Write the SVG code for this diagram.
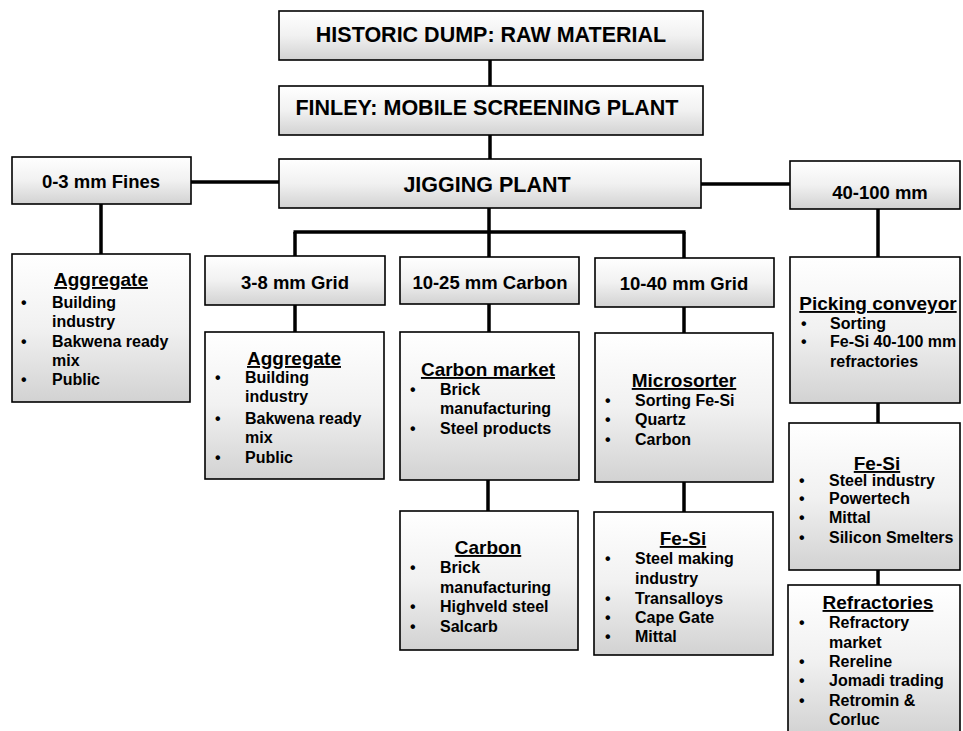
<svg xmlns="http://www.w3.org/2000/svg" width="963" height="731" viewBox="0 0 963 731">
<defs>
<linearGradient id="fill" x1="0" y1="0" x2="0" y2="1">
<stop offset="0" stop-color="#ffffff"/>
<stop offset="0.5" stop-color="#f1f1f1"/>
<stop offset="1" stop-color="#d2d2d2"/>
</linearGradient>
<style>
rect.box{fill:url(#fill);stroke:#000;stroke-width:1.6}
.conn line{stroke:#000;stroke-width:3.5;stroke-linecap:butt}
text{font-family:"Liberation Sans",Arial,Helvetica,sans-serif;font-weight:bold;fill:#000}
.big{font-size:21.5px;text-anchor:middle}
.ttl{font-size:18.5px;text-anchor:middle}
.hdr{font-size:19px;text-anchor:middle;text-decoration:underline}
.itm{font-size:16px}
</style>
</defs>
<rect width="963" height="731" fill="#fff"/>
<g class="conn" id="connectors">
<line x1="490" y1="60" x2="490" y2="86"/>
<line x1="490" y1="135" x2="490" y2="159"/>
<line x1="191" y1="182" x2="279" y2="182"/>
<line x1="701" y1="184" x2="790" y2="184"/>
<line x1="101" y1="204" x2="101" y2="254"/>
<line x1="489" y1="208" x2="489" y2="232"/>
<line x1="293.5" y1="232" x2="685.5" y2="232"/>
<line x1="295" y1="232" x2="295" y2="256"/>
<line x1="489" y1="232" x2="489" y2="257"/>
<line x1="684" y1="232" x2="684" y2="258"/>
<line x1="295" y1="305" x2="295" y2="332"/>
<line x1="489" y1="304" x2="489" y2="332"/>
<line x1="684" y1="307" x2="684" y2="333"/>
<line x1="488" y1="480" x2="488" y2="511"/>
<line x1="684" y1="482" x2="684" y2="512"/>
<line x1="878" y1="209" x2="878" y2="257"/>
<line x1="878" y1="403" x2="878" y2="423"/>
<line x1="878" y1="570" x2="878" y2="585"/>
</g>
<g id="historic-dump">
<rect class="box" x="279" y="11" width="424" height="49"/>
<text class="big" x="491" y="42">HISTORIC DUMP: RAW MATERIAL</text>
</g>
<g id="finley">
<rect class="box" x="279" y="86" width="424" height="49"/>
<text class="big" x="487" y="115">FINLEY: MOBILE SCREENING PLANT</text>
</g>
<g id="jigging">
<rect class="box" x="279" y="159" width="422" height="49"/>
<text class="big" x="487" y="192">JIGGING PLANT</text>
</g>
<g id="fines">
<rect class="box" x="12" y="157" width="179" height="47"/>
<text class="ttl" x="101" y="188">0-3 mm Fines</text>
</g>
<g id="size-40-100">
<rect class="box" x="790" y="161" width="170" height="48"/>
<text class="ttl" x="880" y="199">40-100 mm</text>
</g>
<g id="grid-3-8">
<rect class="box" x="205" y="256" width="180" height="49"/>
<text class="ttl" x="295" y="289">3-8 mm Grid</text>
</g>
<g id="carbon-10-25">
<rect class="box" x="400" y="257" width="179" height="47"/>
<text class="ttl" x="490" y="289">10-25 mm Carbon</text>
</g>
<g id="grid-10-40">
<rect class="box" x="595" y="258" width="179" height="49"/>
<text class="ttl" x="684" y="290">10-40 mm Grid</text>
</g>
<g id="aggregate-1">
<rect class="box" x="12" y="254" width="178" height="148"/>
<text class="hdr" x="101" y="286">Aggregate</text>
<text class="itm"><tspan x="21" y="308">•</tspan><tspan x="52" y="308">Building</tspan><tspan x="52" y="327">industry</tspan><tspan x="21" y="347">•</tspan><tspan x="52" y="347">Bakwena ready</tspan><tspan x="52" y="366">mix</tspan><tspan x="21" y="385">•</tspan><tspan x="52" y="385">Public</tspan></text>
</g>
<g id="aggregate-2">
<rect class="box" x="205" y="332" width="179" height="147"/>
<text class="hdr" x="294" y="365">Aggregate</text>
<text class="itm"><tspan x="215" y="383">•</tspan><tspan x="245" y="383">Building</tspan><tspan x="245" y="402">industry</tspan><tspan x="215" y="424">•</tspan><tspan x="245" y="424">Bakwena ready</tspan><tspan x="245" y="443">mix</tspan><tspan x="215" y="463">•</tspan><tspan x="245" y="463">Public</tspan></text>
</g>
<g id="carbon-market">
<rect class="box" x="400" y="332" width="179" height="148"/>
<text class="hdr" x="488" y="376">Carbon market</text>
<text class="itm"><tspan x="410" y="395">•</tspan><tspan x="440" y="395">Brick</tspan><tspan x="440" y="414">manufacturing</tspan><tspan x="410" y="434">•</tspan><tspan x="440" y="434">Steel products</tspan></text>
</g>
<g id="microsorter">
<rect class="box" x="595" y="333" width="178" height="149"/>
<text class="hdr" x="684" y="387">Microsorter</text>
<text class="itm"><tspan x="605" y="406">•</tspan><tspan x="635" y="406">Sorting Fe-Si</tspan><tspan x="605" y="425">•</tspan><tspan x="635" y="425">Quartz</tspan><tspan x="605" y="445">•</tspan><tspan x="635" y="445">Carbon</tspan></text>
</g>
<g id="carbon">
<rect class="box" x="400" y="511" width="178" height="139"/>
<text class="hdr" x="488" y="554">Carbon</text>
<text class="itm"><tspan x="410" y="573">•</tspan><tspan x="440" y="573">Brick</tspan><tspan x="440" y="593">manufacturing</tspan><tspan x="410" y="612">•</tspan><tspan x="440" y="612">Highveld steel</tspan><tspan x="410" y="632">•</tspan><tspan x="440" y="632">Salcarb</tspan></text>
</g>
<g id="fesi-mid">
<rect class="box" x="594" y="512" width="179" height="143"/>
<text class="hdr" x="683" y="545">Fe-Si</text>
<text class="itm"><tspan x="605" y="564">•</tspan><tspan x="635" y="564">Steel making</tspan><tspan x="635" y="584">industry</tspan><tspan x="605" y="604">•</tspan><tspan x="635" y="604">Transalloys</tspan><tspan x="605" y="623">•</tspan><tspan x="635" y="623">Cape Gate</tspan><tspan x="605" y="642">•</tspan><tspan x="635" y="642">Mittal</tspan></text>
</g>
<g id="picking">
<rect class="box" x="790" y="257" width="170" height="146"/>
<text class="hdr" x="878" y="310">Picking conveyor</text>
<text class="itm"><tspan x="801" y="329">•</tspan><tspan x="830" y="329">Sorting</tspan><tspan x="801" y="347">•</tspan><tspan x="830" y="347">Fe-Si 40-100 mm</tspan><tspan x="830" y="367">refractories</tspan></text>
</g>
<g id="fesi-right">
<rect class="box" x="789" y="423" width="171" height="147"/>
<text class="hdr" x="877" y="470">Fe-Si</text>
<text class="itm"><tspan x="799" y="486">•</tspan><tspan x="829" y="486">Steel industry</tspan><tspan x="799" y="504">•</tspan><tspan x="829" y="504">Powertech</tspan><tspan x="799" y="523">•</tspan><tspan x="829" y="523">Mittal</tspan><tspan x="799" y="543">•</tspan><tspan x="829" y="543">Silicon Smelters</tspan></text>
</g>
<g id="refractories">
<rect class="box" x="788" y="585" width="172" height="150"/>
<text class="hdr" x="878" y="609">Refractories</text>
<text class="itm"><tspan x="799" y="628">•</tspan><tspan x="829" y="628">Refractory</tspan><tspan x="829" y="648">market</tspan><tspan x="799" y="667">•</tspan><tspan x="829" y="667">Rereline</tspan><tspan x="799" y="686">•</tspan><tspan x="829" y="686">Jomadi trading</tspan><tspan x="799" y="706">•</tspan><tspan x="829" y="706">Retromin &amp;</tspan><tspan x="829" y="725">Corluc</tspan></text>
</g>
</svg>
